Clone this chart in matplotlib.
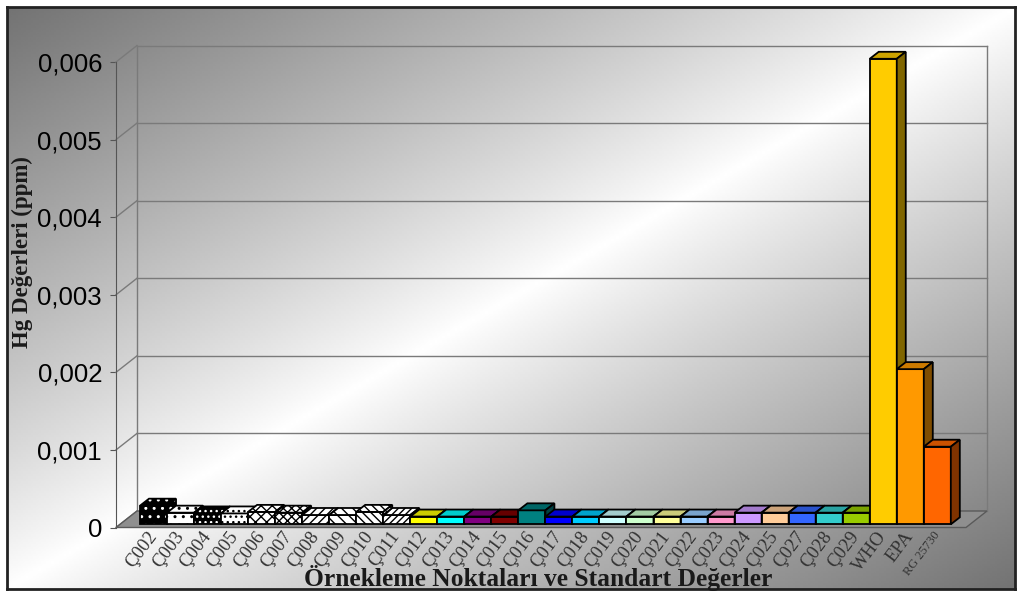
import numpy as np
import matplotlib.pyplot as plt
from matplotlib.patches import Polygon
from matplotlib.colors import to_rgb

# Hg ölçümleri (ppm) ve standart değerler
labels = ['Ç002', 'Ç003', 'Ç004', 'Ç005', 'Ç006', 'Ç007', 'Ç008', 'Ç009', 'Ç010',
          'Ç011', 'Ç012', 'Ç013', 'Ç014', 'Ç015', 'Ç016', 'Ç017', 'Ç018', 'Ç019',
          'Ç020', 'Ç021', 'Ç022', 'Ç023', 'Ç024', 'Ç025', 'Ç027', 'Ç028', 'Ç029',
          'WHO', 'EPA', 'RG 25730']
values = [0.00024, 0.00015, 0.00014, 0.00014, 0.00016, 0.00015, 0.00012, 0.00012,
          0.00016, 0.00012, 0.0001, 0.0001, 0.0001, 0.0001, 0.00018, 0.0001,
          0.0001, 0.0001, 0.0001, 0.0001, 0.0001, 0.0001, 0.00015, 0.00015,
          0.00015, 0.00015, 0.00015, 0.006, 0.002, 0.001]
yticks = [0, 0.001, 0.002, 0.003, 0.004, 0.005, 0.006]
ytick_labels = ['0', '0,001', '0,002', '0,003', '0,004', '0,005', '0,006']

# ilk on nokta desenli, gerisi düz renk: (zemin, desen, desen rengi)
patterns = [('black', '..', 'white'), ('white', '..', 'black'),
            ('black', '...', 'white'), ('white', '...', 'black'),
            ('white', 'xxx', 'black'), ('white', 'xxxx', 'black'),
            ('white', '////', 'black'), ('white', '\\\\\\', 'black'),
            ('white', '\\\\\\\\', 'black'), ('white', '/////', 'black')]
colors = ['#FFFF00', '#00FFFF', '#800080', '#800000', '#008080', '#0000FF',
          '#00CCFF', '#CCFFFF', '#CCFFCC', '#FFFF99', '#99CCFF', '#FF99CC',
          '#CC99FF', '#FFCC99', '#3366FF', '#33CCCC', '#99CC00',
          '#FFCC00', '#FF9900', '#FF6600']

W, H = 1022, 592
fig = plt.figure(figsize=(W / 100, H / 100), dpi=100)

# çerçeve içindeki çapraz gri-beyaz-gri degrade
bg = fig.add_axes([7 / W, 3 / H, 1008 / W, 582 / H], zorder=0)
gx, gy = np.meshgrid(np.linspace(0, 1, 400), np.linspace(0, 1, 240))
t = np.abs(gx + gy - 1)
shade = 1 - 0.55 * t ** 0.9
bg.imshow(shade, cmap='gray', vmin=0, vmax=1, aspect='auto',
          extent=[0, 1, 0, 1], origin='upper')
bg.set_xticks([])
bg.set_yticks([])
for s in bg.spines.values():
    s.set_linewidth(2)
    s.set_color('#222222')

# ön düzlem ekseni (piksel olarak: x 116-966, y 62-527.5)
ax = fig.add_axes([116 / W, (H - 527.5) / H, 850 / W, 465.5 / H], zorder=1)
ax.patch.set_alpha(0)
n = len(labels)
ax.set_xlim(-1.24, n - 0.5 + 0.71)
ax.set_ylim(0, 0.006)

px_x = 850 / (ax.get_xlim()[1] - ax.get_xlim()[0])
px_y = 465.5 / 0.006
# derinlik kaydırmaları (veri birimi)
DX, DY = 21 / px_x, 16.5 / px_y
d0x, d0y = 4 / px_x, 3.2 / px_y
bdx, bdy = 9 / px_x, 7 / px_y

x0, x1 = ax.get_xlim()
grid_c = '#7a7a7a'
kw = dict(color=grid_c, lw=1, clip_on=False, zorder=2)
for v in yticks:
    ax.plot([x0, x0 + DX], [v, v + DY], **kw)
    if v > 0:
        ax.plot([x0 + DX, x1 + DX], [v + DY, v + DY], **kw)
ax.plot([x0 + DX, x0 + DX], [DY, 0.006 + DY], **kw)
ax.plot([x1 + DX, x1 + DX], [DY, 0.006 + DY], **kw)

# zemin
floor = Polygon([(x0, 0), (x1, 0), (x1 + DX, DY), (x0 + DX, DY)], closed=True,
                facecolor='#8f8f8f', edgecolor='#5a5a5a', lw=1, clip_on=False,
                zorder=3)
ax.add_patch(floor)


def shade_col(c, f):
    r, g, b = to_rgb(c)
    return (r * f, g * f, b * f)


def face(pts, fc, z, hatch=None, hc=None):
    if hatch:
        ax.add_patch(Polygon(pts, closed=True, facecolor=fc, hatch=hatch,
                             edgecolor=hc, lw=0, clip_on=False, zorder=z))
        ax.add_patch(Polygon(pts, closed=True, fill=False, edgecolor='black',
                             lw=1.3, clip_on=False, zorder=z + 0.01))
    else:
        ax.add_patch(Polygon(pts, closed=True, facecolor=fc, edgecolor='black',
                             lw=1.3, clip_on=False, zorder=z))


for i, (lab, v) in enumerate(zip(labels, values)):
    l = i - 0.5 + d0x
    r = i + 0.5 + d0x
    b = d0y
    top = v + d0y
    front = [(l, b), (r, b), (r, top), (l, top)]
    lid = [(l, top), (r, top), (r + bdx, top + bdy), (l + bdx, top + bdy)]
    side = [(r, b), (r + bdx, b + bdy), (r + bdx, top + bdy), (r, top)]
    z = 4 + i * 0.1
    if i < len(patterns):
        fc, h, hc = patterns[i]
        face(front, fc, z, h, hc)
        face(lid, fc, z + 0.02, h, hc)
        face(side, fc, z + 0.04, h, hc)
    else:
        c = colors[i - len(patterns)]
        face(front, c, z)
        face(lid, shade_col(c, 0.8), z + 0.02)
        face(side, shade_col(c, 0.5), z + 0.04)

# eksenler ve etiketler
for s in ['top', 'right', 'bottom']:
    ax.spines[s].set_visible(False)
ax.spines['left'].set_color('#555555')
ax.spines['left'].set_zorder(2)
ax.set_yticks(yticks)
ax.set_yticklabels(ytick_labels, fontsize=18.5, family='Liberation Sans')
ax.tick_params(axis='y', length=4, color='#555555', pad=6)

ax.set_xticks(np.arange(n) + d0x)
ax.set_xticklabels(labels, rotation=53, ha='right', va='center',
                   rotation_mode='anchor', family='Liberation Serif',
                   fontsize=13.5, color='#333333')
ax.tick_params(axis='x', length=0, pad=4)
ax.get_xticklabels()[-1].set_fontsize(9)

fig.text(22 / W, 1 - 252 / H, 'Hg Değerleri (ppm)', rotation=90,
         ha='center', va='center', family='Liberation Serif',
         fontweight='bold', fontsize=16.5, color='#1a1a1a')
fig.text(538 / W, 1 - 578 / H, 'Örnekleme Noktaları ve Standart Değerler',
         ha='center', va='center', family='Liberation Serif',
         fontweight='bold', fontsize=18.4, color='#1a1a1a')

fig.savefig('out.png', dpi=100)
